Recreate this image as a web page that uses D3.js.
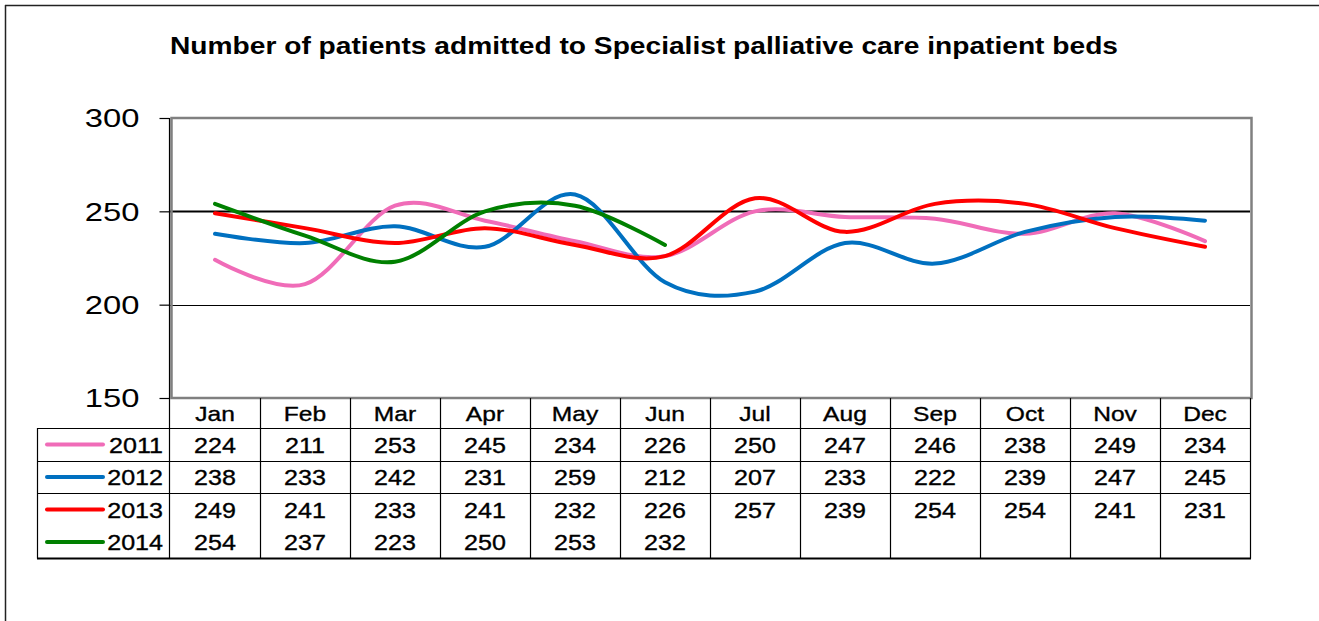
<!DOCTYPE html>
<html>
<head>
<meta charset="utf-8">
<script src="https://cdn.jsdelivr.net/npm/d3@7"></script>
<style>
  body { margin: 0; background: #fff; }
  svg { display: block; }
  text { font-family: "Liberation Sans", Arial, sans-serif; fill: #000; }
</style>
</head>
<body>
<svg id="chart" width="1319" height="621"></svg>
<script>
// Monthly admissions to specialist palliative care inpatient beds
const months = ["Jan", "Feb", "Mar", "Apr", "May", "Jun", "Jul", "Aug", "Sep", "Oct", "Nov", "Dec"];
const years = ["2011", "2012", "2013", "2014"];
const v2011 = [224, 211, 253, 245, 234, 226, 250, 247, 246, 238, 249, 234];
const v2012 = [238, 233, 242, 231, 259, 212, 207, 233, 222, 239, 247, 245];
const v2013 = [249, 241, 233, 241, 232, 226, 257, 239, 254, 254, 241, 231];
const v2014 = [254, 237, 223, 250, 253, 232];
const yTicks = [150, 200, 250, 300];
const gridValues = [200, 250];
const title = "Number of patients admitted to Specialist palliative care inpatient beds";

const seriesColors = ["#F06CB8", "#0070C0", "#FF0000", "#008000"];
const seriesValues = [v2011, v2012, v2013, v2014];
const series = years.map((yr, i) => ({ year: yr, values: seriesValues[i], color: seriesColors[i] }));

const svg = d3.select("#chart");

// horizontal stretch for text, done through textLength
function stretch(sel, sx) {
  sel.each(function () {
    const w = this.getComputedTextLength();
    d3.select(this).attr("textLength", w * sx).attr("lengthAdjust", "spacingAndGlyphs");
  });
}

// outer frame (top and left edges)
svg.append("line").attr("x1", 5).attr("y1", 5.5).attr("x2", 1319).attr("y2", 5.5)
  .attr("stroke", "#222").attr("stroke-width", 1.5);
svg.append("line").attr("x1", 5.5).attr("y1", 5).attr("x2", 5.5).attr("y2", 621)
  .attr("stroke", "#222").attr("stroke-width", 1.5);

// title
svg.append("text")
  .attr("x", 644).attr("y", 54)
  .attr("text-anchor", "middle")
  .attr("font-size", 24).attr("font-weight", "bold")
  .attr("textLength", 948).attr("lengthAdjust", "spacingAndGlyphs")
  .text(title);

// scales
const plotLeft = 170, plotRight = 1250, plotTop = 118, plotBottom = 398;
const x = d3.scaleBand().domain(months).range([plotLeft, plotRight]).padding(0);
const y = d3.scaleLinear().domain([150, 300]).range([plotBottom, plotTop]);
const cx = i => x(months[i]) + x.bandwidth() / 2;

// gridlines
svg.append("g").selectAll("line").data(gridValues).join("line")
  .attr("x1", plotLeft).attr("x2", plotRight)
  .attr("y1", d => Math.round(y(d)) + 0.5).attr("y2", d => Math.round(y(d)) + 0.5)
  .attr("stroke", "#000").attr("stroke-width", d => d === 250 ? 2.2 : 1.2);

// plot border
svg.append("rect")
  .attr("x", plotLeft + 1.5).attr("y", plotTop).attr("width", plotRight - plotLeft).attr("height", plotBottom - plotTop)
  .attr("fill", "none").attr("stroke", "#808080").attr("stroke-width", 2.5);

// y axis
const yAxis = svg.append("g")
  .attr("transform", `translate(${plotLeft - 0.5},0)`)
  .call(d3.axisLeft(y).tickValues(yTicks).tickSize(10).tickPadding(20).tickFormat(d3.format("d")));
yAxis.select(".domain").remove();
yAxis.selectAll(".tick line").attr("stroke", "#000").attr("stroke-width", 1.2);
yAxis.selectAll(".tick text")
  .attr("font-size", 26).attr("font-family", null).attr("dy", "0.34em")
  .call(stretch, 1.26);
svg.append("line").attr("x1", plotLeft - 0.5).attr("x2", plotLeft - 0.5).attr("y1", plotTop).attr("y2", 559)
  .attr("stroke", "#000").attr("stroke-width", 1.2);

// series lines
const line = d3.line()
  .x((d, i) => cx(i))
  .y(d => y(d))
  .curve(d3.curveCatmullRom.alpha(0));

svg.append("g").selectAll("path").data(series).join("path")
  .attr("d", s => line(s.values))
  .attr("fill", "none")
  .attr("stroke", s => s.color)
  .attr("stroke-width", 4)
  .attr("stroke-linecap", "round")
  .attr("stroke-linejoin", "round");

// data table
const rowTop = [428, 461, 493, 526];
const rowH = [33, 32, 33, 32];
const tableLeft = 37, tableBottom = 558.5;
const table = svg.append("g");

// horizontal rules (no rule between the last two rows)
[428, 461, 493].forEach(yy => {
  table.append("line").attr("x1", tableLeft).attr("x2", plotRight + 1).attr("y1", yy + 0.5).attr("y2", yy + 0.5)
    .attr("stroke", "#000").attr("stroke-width", 1.2);
});
table.append("line").attr("x1", tableLeft).attr("x2", plotRight + 1).attr("y1", tableBottom).attr("y2", tableBottom)
  .attr("stroke", "#000").attr("stroke-width", 2.2);
table.append("line").attr("x1", tableLeft + 0.5).attr("x2", tableLeft + 0.5).attr("y1", 428).attr("y2", tableBottom)
  .attr("stroke", "#000").attr("stroke-width", 1.2);

// column rules
table.selectAll("line.col").data(months).join("line").attr("class", "col")
  .attr("x1", d => x(d) + x.bandwidth() + 0.5).attr("x2", d => x(d) + x.bandwidth() + 0.5)
  .attr("y1", plotBottom).attr("y2", tableBottom)
  .attr("stroke", "#000").attr("stroke-width", 1.2);

// month headers
table.selectAll("text.month").data(months).join("text").attr("class", "month")
  .attr("x", d => x(d) + x.bandwidth() / 2).attr("y", 421)
  .attr("text-anchor", "middle").attr("font-size", 21)
  .attr("stroke", "#000").attr("stroke-width", 0.35)
  .text(d => d)
  .call(stretch, 1.17);

// legend keys and year labels
series.forEach((s, r) => {
  const midY = rowTop[r] + rowH[r] / 2;
  table.append("line").attr("x1", 47).attr("x2", 103).attr("y1", midY).attr("y2", midY)
    .attr("stroke", s.color).attr("stroke-width", 4).attr("stroke-linecap", "round");
  table.append("text").attr("x", 163).attr("y", midY + 8)
    .attr("text-anchor", "end").attr("font-size", 22)
    .attr("stroke", "#000").attr("stroke-width", 0.35)
    .text(s.year)
    .call(stretch, 1.14);
  table.append("g").selectAll("text").data(s.values).join("text")
    .attr("x", (d, i) => cx(i)).attr("y", midY + 8)
    .attr("text-anchor", "middle").attr("font-size", 22)
    .attr("stroke", "#000").attr("stroke-width", 0.35)
    .text(d => d)
    .call(stretch, 1.14);
});
</script>
</body>
</html>
